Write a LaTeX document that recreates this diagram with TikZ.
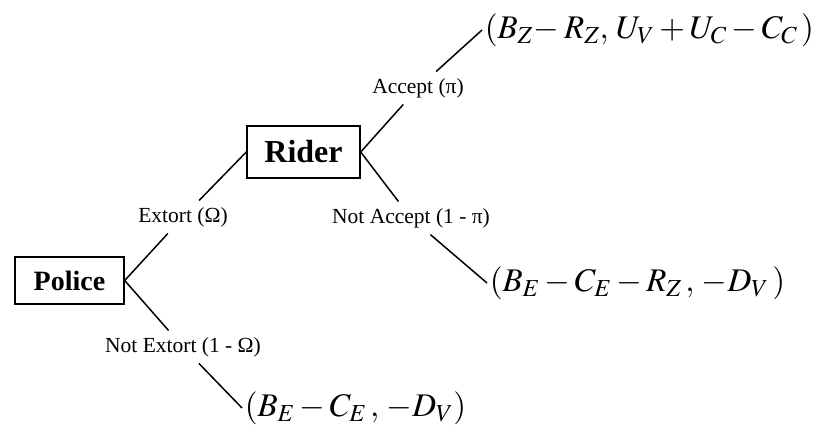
\documentclass[tikz,border=0pt]{standalone}
\usepackage{mathptmx}
\usepackage{fontspec}
\setmainfont{Liberation Serif}
\begin{document}
\begin{tikzpicture}[x=1pt,y=-1pt,line width=1.5pt,
 player/.style={draw,line width=1.4pt,inner sep=0pt},
 choice/.style={font=\fontsize{21.5}{23}\selectfont,inner sep=6pt},
 payoff/.style={font=\fontsize{33}{36}\selectfont,inner sep=2pt,anchor=west}]
\useasboundingbox (0,0) rectangle (818,427);
% players
\node[player,minimum width=109,minimum height=47,font=\fontsize{28}{30}\selectfont\bfseries] (police) at (69.5,280.5) {Police};
\node[player,minimum width=113,minimum height=52,font=\fontsize{32}{34}\selectfont\bfseries] (rider) at (303.5,152) {Rider};
% choices
\node[choice] (extort) at (183,217) {Extort (Ω)};
\node[choice] (notextort) at (183,347) {Not Extort (1 - Ω)};
\node[choice] (accept) at (418,88) {Accept (π)};
\node[choice] (notaccept) at (411,218) {Not Accept (1 - π)};
% payoffs
\node[payoff] (payA) at (482,30) {$(B_Z\!- R_Z,\, U_V + U_C - C_C\,)$};
\node[payoff] (payNA) at (487,283) {$(B_E - C_E - R_Z\,,\, {-}D_V\,)$};
\node[payoff] (payNE) at (242,408) {$(B_E - C_E\,,\, - D_V)$};
% branches
\draw (police.east) -- (extort) -- (rider.west);
\draw (police.east) -- (notextort) -- (payNE.west);
\draw (rider.east) -- (accept) -- (payA.west);
\draw (rider.east) -- (notaccept) -- (payNA.west);
\end{tikzpicture}
\end{document}
